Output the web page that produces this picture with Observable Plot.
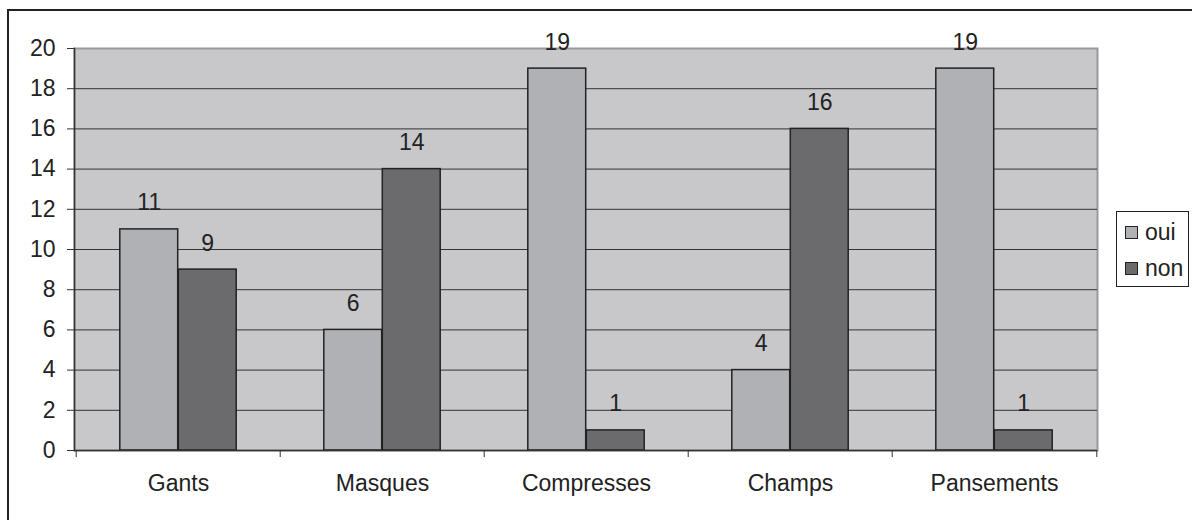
<!DOCTYPE html>
<html>
<head>
<meta charset="utf-8">
<script src="https://cdn.jsdelivr.net/npm/d3@7"></script>
<script src="https://cdn.jsdelivr.net/npm/@observablehq/plot@0.6"></script>
<style>
  html, body { margin: 0; padding: 0; background: #fff; overflow: hidden; }
  #wrap { position: relative; width: 1192px; height: 520px; overflow: hidden; font-family: "Liberation Sans", Arial, sans-serif; }
  #border { position: absolute; left: 7px; top: 9px; width: 1300px; height: 700px; border: 2px solid #222; box-sizing: border-box; }
  #chart { position: absolute; left: 0; top: 0; }
  #chart svg text { font-size: 23px; font-family: "Liberation Sans", Arial, sans-serif; }
  #legend { position: absolute; left: 1116px; top: 211px; width: 73px; height: 76px; border: 1px solid #222; box-sizing: border-box; background: #fff; font-size: 23px; line-height: 26px; color: #222; }
  .item { position: absolute; left: 8px; display: flex; align-items: center; }
  .sw { width: 11px; height: 11px; border: 1px solid #222; margin-right: 7px; }
</style>
</head>
<body>
<div id="wrap">
  <div id="border"></div>
  <div id="chart"></div>
  <div id="legend"></div>
</div>
<script>
const categories = ["Gants", "Masques", "Compresses", "Champs", "Pansements"];
const series = ["oui", "non"];
const ouiValues = [11, 6, 19, 4, 19];
const nonValues = [9, 14, 1, 16, 1];
const yTicks = [0, 2, 4, 6, 8, 10, 12, 14, 16, 18, 20];
const colors = {oui: "#b0b1b5", non: "#6b6b6d"};

const oui = categories.map((c, i) => ({category: c, series: "oui", value: ouiValues[i]}));
const non = categories.map((c, i) => ({category: c, series: "non", value: nonValues[i]}));

const W = 1192, H = 520;
const mL = 74, mR = 95, mT = 48, mB = 70;
const bw = (W - mL - mR) / categories.length;
const barW = 58.5;
const inset = (bw - barW) / 2;
const off = barW / 2;
const FS = 23;

const barOpts = {insetLeft: inset, insetRight: inset, stroke: "#222", strokeWidth: 1.5};

const plot = Plot.plot({
  width: W, height: H,
  marginLeft: mL, marginRight: mR, marginTop: mT, marginBottom: mB,
  style: {fontFamily: "Liberation Sans, Arial, sans-serif", fontSize: "23px", color: "#222", background: "transparent", overflow: "visible"},
  x: {domain: categories, padding: 0, axis: null},
  y: {domain: [0, 20], axis: null},
  marks: [
    Plot.frame({fill: "#c8c8ca", stroke: "#9a9a9a", strokeWidth: 2}),
    Plot.gridY(yTicks.filter(d => d > 0 && d < 20), {stroke: "#333", strokeOpacity: 1, strokeWidth: 1}),
    Plot.barY(oui, {x: "category", y: "value", fill: colors.oui, dx: -off, ...barOpts}),
    Plot.barY(non, {x: "category", y: "value", fill: colors.non, dx: off, ...barOpts}),
    Plot.text(oui, {x: "category", y: "value", text: d => String(d.value), dx: -off, dy: -19, lineAnchor: "bottom", fill: "#222", fontSize: FS}),
    Plot.text(non, {x: "category", y: "value", text: d => String(d.value), dx: off, dy: -19, lineAnchor: "bottom", fill: "#222", fontSize: FS}),
    Plot.frame({anchor: "left", stroke: "#333", strokeWidth: 1.5}),
    Plot.ruleY([0], {stroke: "#333", strokeWidth: 1.5}),
    Plot.axisY({ticks: yTicks, tickSize: 7, tickPadding: 12, stroke: "#333", fontSize: FS, label: null}),
    Plot.axisX({tickSize: 0, tickPadding: 24, label: null, fontSize: FS}),
    Plot.axisX({tickSize: 7, tickFormat: () => "", dx: -bw / 2, stroke: "#333", label: null}),
    Plot.axisX({ticks: [categories[categories.length - 1]], tickSize: 7, tickFormat: () => "", dx: bw / 2, stroke: "#333", label: null})
  ]
});
document.getElementById("chart").appendChild(plot);

const legend = document.getElementById("legend");
series.forEach((s, i) => {
  const item = document.createElement("div");
  item.className = "item";
  item.style.top = (i === 0 ? 7 : 43) + "px";
  const sw = document.createElement("div");
  sw.className = "sw";
  sw.style.background = colors[s];
  const t = document.createElement("span");
  t.textContent = s;
  item.appendChild(sw);
  item.appendChild(t);
  legend.appendChild(item);
});
</script>
</body>
</html>
